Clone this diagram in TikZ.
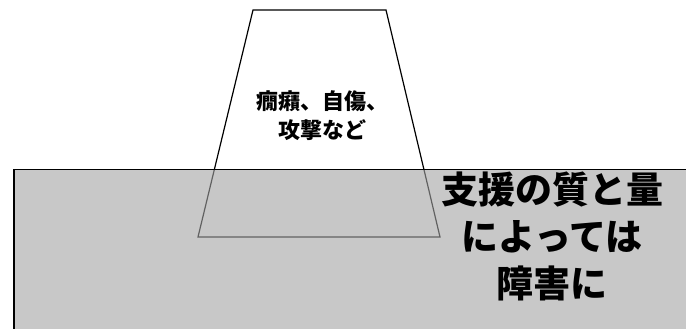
\documentclass[tikz,border=0pt]{standalone}
\usepackage{fontspec}
\newfontfamily\cjk{Noto Sans CJK JP}[BoldFont=* Black]
\begin{document}
\begin{tikzpicture}[x=1pt,y=1pt,
  trap/.style={draw=black,line width=1.2pt,fill=white},
  groundfill/.style={fill={rgb,255:red,163;green,163;blue,163},fill opacity=0.6},
  groundedge/.style={draw=black,line width=1.4pt},
  smalltext/.style={font=\cjk\bfseries\fontsize{22}{29}\selectfont,align=center,inner sep=0pt},
  bigtext/.style={font=\cjk\bfseries\fontsize{37}{47}\selectfont,align=center,inner sep=0pt}]
\useasboundingbox (0,0) rectangle (686,329);
\begin{scope}
\clip (0,0) rectangle (686,329);
\draw[trap] (253,319) coordinate (tl) -- (386,319) coordinate (tr) -- (440,92) coordinate (br) -- (198,92) coordinate (bl) -- cycle;
\fill[groundfill] (14,-10) rectangle (700,159.5);
\draw[groundedge] (14,-10) -- (14,159.5) -- (700,159.5);
\end{scope}
\node[smalltext] (top) at (322,213) {癇癪、自傷、\\攻撃など};
\node[bigtext] (big) at (552,93) {支援の質と量\\によっては\\障害に};
\end{tikzpicture}
\end{document}
